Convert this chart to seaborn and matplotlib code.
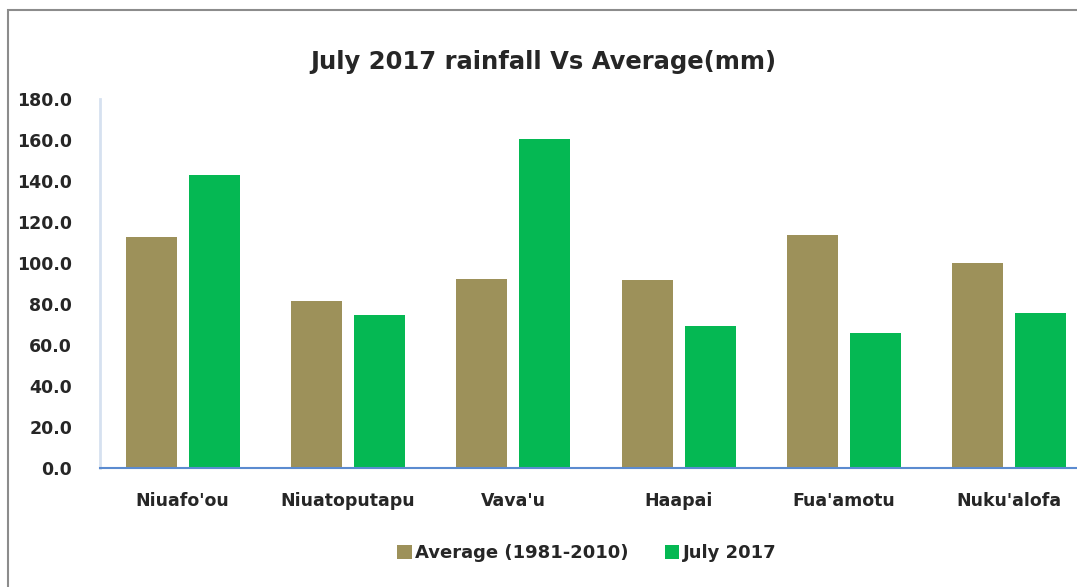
import matplotlib
matplotlib.use("Agg")
import matplotlib.pyplot as plt
import seaborn as sns
import pandas as pd
from matplotlib.patches import Rectangle

stations = ["Niuafo'ou", "Niuatoputapu", "Vava'u", "Haapai", "Fua'amotu", "Nuku'alofa"]
average_1981_2010 = [112.6, 81.2, 92.1, 91.6, 113.6, 99.7]
july_2017 = [143.0, 74.7, 160.5, 69.1, 65.9, 75.6]
series_names = ["Average (1981-2010)", "July 2017"]
y_ticks = [0, 20, 40, 60, 80, 100, 120, 140, 160, 180]

df = pd.DataFrame({
    "Station": stations * 2,
    "Series": [series_names[0]] * len(stations) + [series_names[1]] * len(stations),
    "Rainfall": average_1981_2010 + july_2017,
})

sns.set_theme(style="white")
plt.rcParams["font.family"] = ["DejaVu Sans"]

W, H = 1077, 587
fig = plt.figure(figsize=(W / 100, H / 100), dpi=100)
ax = fig.add_axes([100 / W, 1 - 468.3 / H, 992 / W, (468.3 - 98.5) / H])

colors = {"Average (1981-2010)": "#9D915A", "July 2017": "#05B853"}
sns.barplot(data=df, x="Station", y="Rainfall", hue="Series", palette=colors,
            width=0.76, gap=0.19, ax=ax, saturation=1, edgecolor="none")

txt = "#262626"
ax.set_ylim(0, 180)
ax.set_yticks(y_ticks)
ax.set_yticklabels([f"{v:.1f}" for v in y_ticks], fontsize=12.5, fontweight="bold", color=txt)
ax.set_xticks(range(len(stations)))
ax.set_xticklabels(stations, fontsize=12.5, fontweight="bold", color=txt)
ax.tick_params(axis="y", length=0, pad=20)
ax.tick_params(axis="x", length=0, pad=17)
ax.set_xlabel("")
ax.set_ylabel("")
ax.set_xlim(-0.5, len(stations) - 0.5)

for s in ["top", "right"]:
    ax.spines[s].set_visible(False)
ax.spines["left"].set_color("#D6E1F0")
ax.spines["left"].set_linewidth(2)
ax.spines["bottom"].set_color("#5B8BD0")
ax.spines["bottom"].set_linewidth(1.5)

handles, labels = ax.get_legend_handles_labels()
ax.legend(handles, labels, ncol=2, frameon=False, loc="center",
          bbox_to_anchor=(587 / W, 1 - 553 / H), bbox_transform=fig.transFigure,
          handlelength=0.8, handleheight=0.8, handletextpad=0.2, columnspacing=2.0,
          prop={"weight": "bold", "size": 13})
for t in ax.get_legend().get_texts():
    t.set_color(txt)

fig.text(543 / W, 1 - 62 / H, "July 2017 rainfall Vs Average(mm)", ha="center", va="center",
         fontsize=17.5, fontweight="bold", color=txt)

# outer chart border (cropped at right and bottom)
fig.patches.append(Rectangle((8 / W, -0.05), 1.2, 1 - 10 / H + 0.05, transform=fig.transFigure,
                             fill=False, edgecolor="#8C8C8C", linewidth=1.5))

fig.savefig("out.png", dpi=100, facecolor="white")
